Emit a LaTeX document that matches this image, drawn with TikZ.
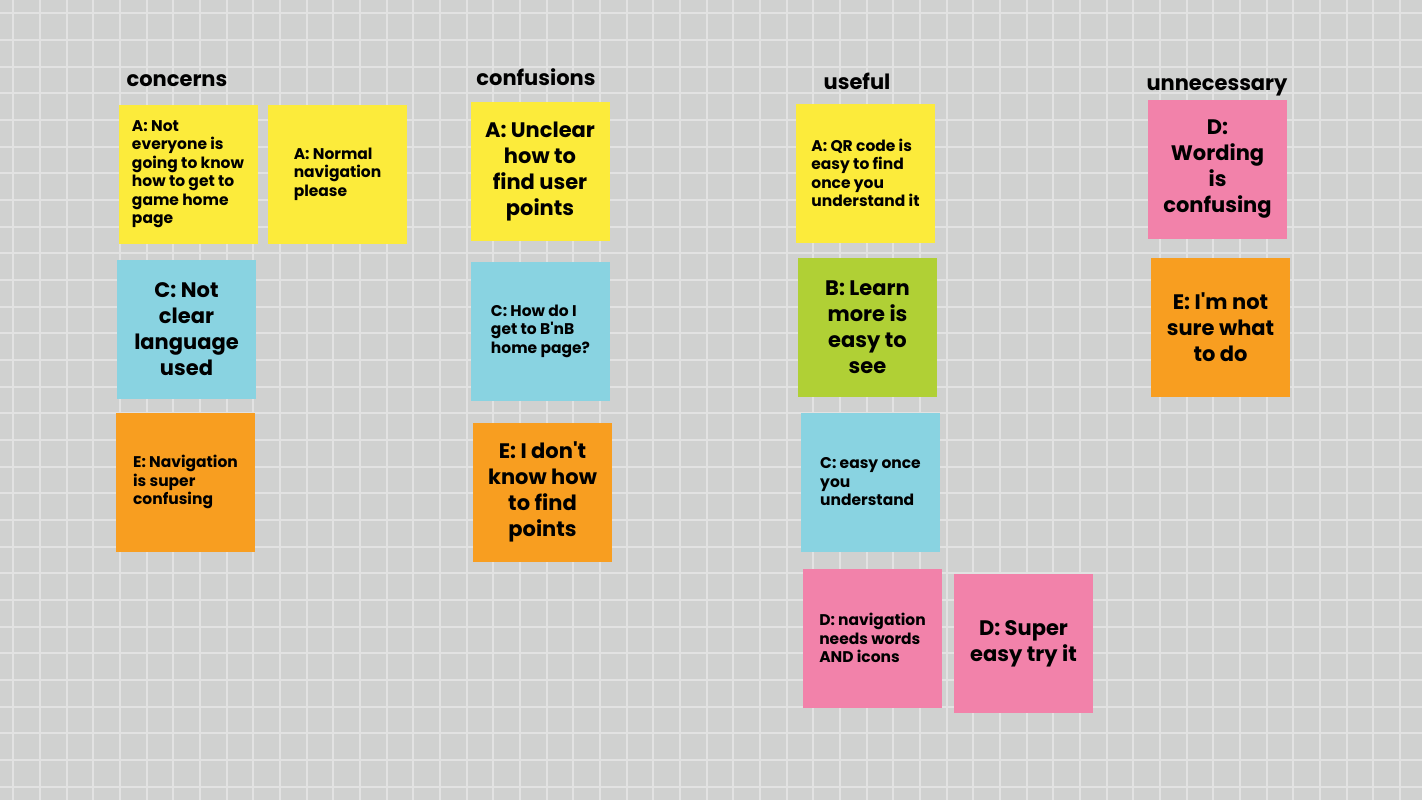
\documentclass[tikz,border=0pt]{standalone}
\usepackage{fontspec}
\setmainfont{Poppins}
\usepackage{tikz}
\definecolor{boardgray}{RGB}{208,209,208}
\definecolor{gridwhite}{RGB}{226,226,226}
\definecolor{noteyellow}{RGB}{252,235,59}
\definecolor{noteblue}{RGB}{137,211,225}
\definecolor{noteorange}{RGB}{248,158,32}
\definecolor{notegreen}{RGB}{176,208,53}
\definecolor{notepink}{RGB}{242,130,170}

\begin{document}
\begin{tikzpicture}[x=1pt,y=-1pt,
    note/.style={minimum width=139pt, minimum height=139pt, inner sep=0pt, text=black},
    small/.style={note, align=left, font=\fontsize{15.5}{18.5}\selectfont\bfseries},
    big/.style={note, align=center, font=\fontsize{21}{26}\selectfont\bfseries},
    header/.style={font=\fontsize{21}{24}\selectfont\bfseries, inner sep=0pt, anchor=base}]
    % board with grid
    \fill[boardgray] (0,0) rectangle (1422,800);
    \useasboundingbox (0,0) rectangle (1422,800);
    \foreach \i in {0,...,53}
      \draw[gridwhite, line width=2pt] (13.33+26.667*\i,0) -- ++(0,800);
    \foreach \j in {0,...,29}
      \draw[gridwhite, line width=2pt] (0,13.33+26.667*\j) -- ++(1422,0);
    % column headers
    \node[header] (concerns) at (177,87) {concerns};
    \node[header] (confusions) at (536,85) {confusions};
    \node[header] (useful) at (857,89) {useful};
    \node[header] (unnecessary) at (1217,90) {unnecessary};
    % concerns
    \node[small, fill=noteyellow] (conA) at (188,174) {A: Not\\everyone is\\going to know\\how to get to\\game home\\page};
    \node[small, fill=noteyellow] (conA2) at (337.5,174) {A: Normal\\navigation\\please};
    \node[big, fill=noteblue] (conC) at (186.5,329.5) {C: Not\\clear\\language\\used};
    \node[small, fill=noteorange] (conE) at (185.5,482) {E: Navigation\\is super\\confusing};
    % confusions
    \node[big, fill=noteyellow] (cfuA) at (540,171.5) {A: Unclear\\how to\\find user\\points};
    \node[small, fill=noteblue] (cfuC) at (540.5,331) {C: How do I\\get to B\textquotesingle nB\\home page?};
    \node[big, fill=noteorange] (cfuE) at (542.5,492) {E: I don\textquotesingle t\\know how\\to find\\points};
    % useful
    \node[small, fill=noteyellow] (useA) at (865.5,173) {A: QR code is\\easy to find\\once you\\understand it};
    \node[big, fill=notegreen] (useB) at (867.5,327) {B: Learn\\more is\\easy to\\see};
    \node[small, fill=noteblue] (useC) at (870.5,482) {C: easy once\\you\\understand};
    \node[small, fill=notepink] (useD) at (872.5,638) {D: navigation\\needs words\\AND icons};
    \node[big, fill=notepink] (useD2) at (1023.5,643.5) {D: Super\\easy try it};
    % unnecessary
    \node[big, fill=notepink] (unnD) at (1217.5,169.5) {D:\\Wording\\is\\confusing};
    \node[big, fill=noteorange] (unnE) at (1220.5,327.5) {E: I\textquotesingle m not\\sure what\\to do};
\end{tikzpicture}
\end{document}
